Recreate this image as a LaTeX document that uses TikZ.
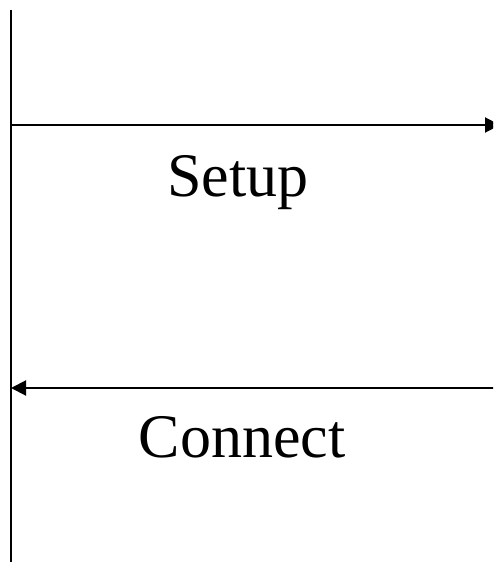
\documentclass[tikz,border=0pt]{standalone}
\usepackage{fontspec}
\setmainfont{Liberation Serif}
\usetikzlibrary{arrows.meta}
\begin{document}
\begin{tikzpicture}[x=1pt,y=-1pt,
  msg/.style={line width=2pt,-{Triangle[length=15pt,width=15pt]}},
  lbl/.style={anchor=base,inner sep=0pt,font=\fontsize{62}{70}\selectfont}]
\useasboundingbox (0,0) rectangle (493,562);
\clip (0,0) rectangle (493,562);
\coordinate (ltop) at (11,10);
\coordinate (lbot) at (11,565);
\draw[line width=2pt] (ltop) -- (lbot);
\coordinate (a1s) at (11,125);
\coordinate (a1e) at (500,125);
\draw[msg] (a1s) -- (a1e);
\coordinate (a2s) at (495,388);
\coordinate (a2e) at (11,388);
\draw[msg] (a2s) -- (a2e);
\node[lbl] (setup) at (238,196) {Setup};
\node[lbl] (connect) at (242,457) {Connect};
\end{tikzpicture}
\end{document}
